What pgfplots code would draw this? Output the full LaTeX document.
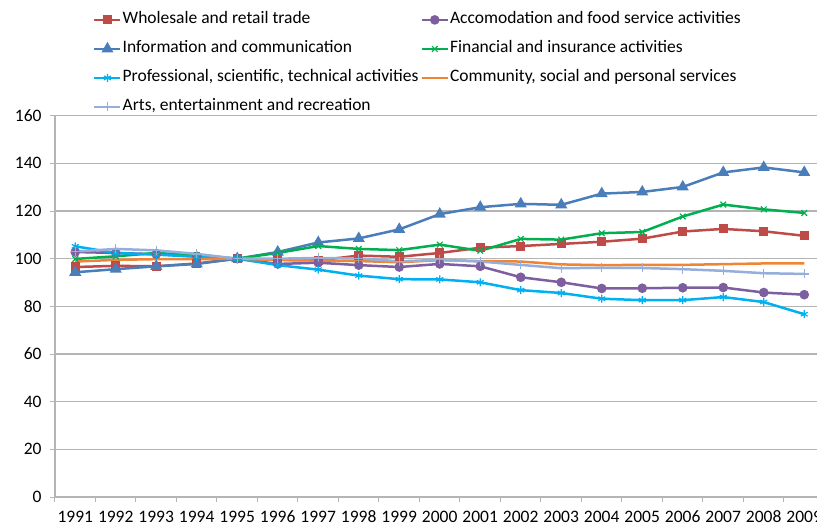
\documentclass[border=0pt]{standalone}
\usepackage{pgfplots}
\pgfplotsset{compat=1.18}
\usepackage{pgfplotstable}
\usepackage{fontspec}
\setmainfont{Carlito}

\definecolor{cWhole}{HTML}{BE4B48}
\definecolor{cAccom}{HTML}{7D5FA0}
\definecolor{cInfo}{HTML}{4A7EBB}
\definecolor{cFin}{HTML}{00B050}
\definecolor{cProf}{HTML}{00B0F0}
\definecolor{cComm}{HTML}{EE8434}
\definecolor{cArts}{HTML}{95AEDB}
\definecolor{cGrid}{HTML}{B4B4B4}

% index, 1995 = 100
\pgfplotstableread{
year whole accom info fin prof comm arts
1991 96.5 102.8 94.3 99.9 105.2 98.8 103.0
1992 97.0 102.4 95.6 101.0 102.4 99.5 104.1
1993 96.8 101.9 96.8 102.4 101.7 99.8 103.5
1994 98.0 101.0 97.8 101.5 100.8 99.8 102.0
1995 100.0 100.0 100.0 100.0 100.0 100.0 100.0
1996 99.6 97.8 102.8 102.4 97.3 99.4 100.0
1997 99.3 98.3 106.8 105.3 95.4 99.2 100.3
1998 101.3 97.3 108.5 104.1 92.9 99.0 100.1
1999 100.8 96.5 112.3 103.6 91.4 98.5 98.9
2000 102.4 97.8 118.7 105.9 91.3 99.4 99.5
2001 104.6 96.8 121.6 103.3 90.1 99.0 98.8
2002 105.3 92.2 123.0 108.3 86.8 98.8 97.4
2003 106.2 90.1 122.6 108.0 85.6 97.6 96.0
2004 107.1 87.5 127.3 110.7 83.2 97.3 96.2
2005 108.4 87.6 128.0 111.2 82.6 97.4 96.1
2006 111.4 87.8 130.1 117.7 82.6 97.4 95.6
2007 112.5 87.9 136.2 122.7 83.9 97.7 94.9
2008 111.5 85.8 138.3 120.7 81.8 98.0 93.9
2009 109.6 84.9 136.2 119.2 76.7 98.0 93.6
}\datatable

\begin{document}
\begin{tikzpicture}
\begin{axis}[
  scale only axis,
  width=769.5bp, height=381.3bp,
  xmin=1990.5, xmax=2009.5,
  ymin=0, ymax=160,
  ytick={0,20,...,160},
  xtick={1991,...,2009},
  xticklabels={1991,1992,1993,1994,1995,1996,1997,1998,1999,2000,2001,2002,2003,2004,2005,2006,2007,2008,2009},
  minor xtick={1990.5,1991.5,...,2009.5},
  major x tick style={draw=none},
  tick align=outside,
  major tick length=5bp,
  minor tick length=5bp,
  ymajorgrids,
  grid style={cGrid, line width=1.2bp},
  axis line style={cGrid, line width=1.2bp},
  tick style={cGrid, line width=1bp},
  axis x line*=bottom,
  axis y line*=left,
  every tick label/.append style={font=\fontsize{17.5bp}{20bp}\selectfont, black},
  /pgf/number format/assume math mode=true,
  yticklabel style={xshift=-5bp},
  xticklabel style={yshift=-5.5bp},
  clip=false,
  every axis plot/.append style={line width=2.5bp, mark options={solid}},
  legend columns=2,
  legend style={
    at={(0,1)}, anchor=north west, xshift=38bp, yshift=104bp,
    draw=none, fill=none, inner sep=0pt,
    font=\fontsize{17.5bp}{20bp}\selectfont,
    nodes={inner sep=0pt, text height=12bp, text depth=4bp, anchor=west},
    row sep=13bp,
    column sep=1bp,
    /tikz/every even column/.append style={column sep=2bp},
  },
  legend image code/.code={
    \draw[mark repeat=2, mark phase=2] plot coordinates {(0bp,0bp) (13bp,0bp) (26bp,0bp)};
  },
]
\addplot[cWhole, mark=square*, mark size=3.3bp] table[x=year, y=whole] {\datatable};
\addlegendentry{Wholesale and retail trade}
\addplot[cAccom, mark=*, mark size=3.5bp] table[x=year, y=accom] {\datatable};
\addlegendentry{Accomodation and food service activities}
\addplot[cInfo, mark=triangle*, mark size=4.5bp] table[x=year, y=info] {\datatable};
\addlegendentry{Information and communication}
\addplot[cFin, mark=x, mark size=4bp, mark options={line width=1.2bp}] table[x=year, y=fin] {\datatable};
\addlegendentry{Financial and insurance activities}
\addplot[cProf, mark=asterisk, mark size=4bp, mark options={line width=1.2bp}] table[x=year, y=prof] {\datatable};
\addlegendentry{Professional, scientific, technical activities}
\addplot[cComm, no marks] table[x=year, y=comm] {\datatable};
\addlegendentry{Community, social and personal services}
\addplot[cArts, mark=+, mark size=4.5bp, mark options={line width=1.2bp}] table[x=year, y=arts] {\datatable};
\addlegendentry{Arts, entertainment and recreation}
\end{axis}
\pgfresetboundingbox
\useasboundingbox (-55bp,-29bp) rectangle (762bp,497bp);
\end{tikzpicture}
\end{document}
